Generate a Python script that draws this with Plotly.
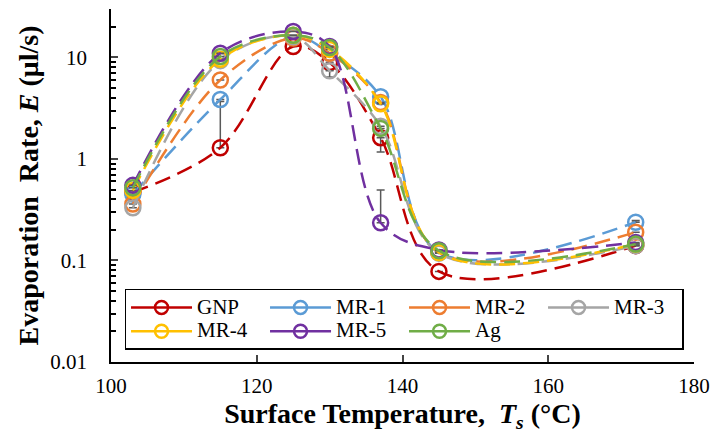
import plotly.graph_objects as go

temps = [103, 115, 125, 130, 137, 145, 172]

series_names = ["GNP", "MR-1", "MR-2", "MR-3", "MR-4", "MR-5", "Ag"]
colors = ["#C00000", "#5B9BD5", "#ED7D31", "#A5A5A5", "#FFC000", "#7030A0", "#70AD47"]

gnp = [0.47, 1.29, 12.8, 8.9, 1.62, 0.078, 0.14]
mr1 = [0.45, 3.85, 16.0, 11.0, 4.1, 0.12, 0.238]
mr2 = [0.36, 6.0, 15.5, 11.0, 3.6, 0.12, 0.19]
mr3 = [0.33, 9.3, 16.0, 7.4, 2.1, 0.118, 0.14]
mr4 = [0.49, 9.6, 16.5, 12.0, 3.5, 0.12, 0.145]
mr5 = [0.55, 11.0, 18.0, 12.8, 0.235, 0.127, 0.15]
ag = [0.52, 10.2, 16.5, 12.5, 2.0, 0.125, 0.145]
values = [gnp, mr1, mr2, mr3, mr4, mr5, ag]

err_plus = [
    [0, 2.4, 0, 0, 0, 0, 0],
    [0, 0, 0, 0, 0, 0, 0.01],
    [0, 0, 0, 0, 0, 0, 0],
    [0, 0, 0, 0, 0, 0, 0],
    [0, 0, 0, 0, 0, 0, 0],
    [0, 0, 0, 0, 0.26, 0, 0],
    [0, 0, 0, 0, 0, 0, 0],
]
err_minus = [
    [0, 0, 0, 0, 0.45, 0, 0],
    [0, 0, 0, 0, 0, 0, 0],
    [0, 0, 0, 0, 0, 0, 0],
    [0, 0, 0, 1.0, 0, 0, 0],
    [0, 0, 0, 0, 0, 0, 0],
    [0, 0, 0, 0, 0, 0, 0],
    [0, 0, 0, 0, 0, 0, 0],
]

y_ticks = [0.01, 0.1, 1, 10]
y_tick_text = ["0.01", "0.1", "1", "10"]
x_ticks = [100, 120, 140, 160, 180]

FONT = "Liberation Serif, Times New Roman, serif"

fig = go.Figure()
for name, col, vals, ep, em in zip(series_names, colors, values, err_plus, err_minus):
    fig.add_trace(go.Scatter(
        x=temps, y=vals, name=name, mode="lines+markers",
        line=dict(color=col, width=2.5, shape="spline", dash="16px,8px"),
        marker=dict(symbol="circle-open", size=15, color=col, line=dict(width=2.5, color=col)),
        error_y=dict(type="data", symmetric=False, array=ep, arrayminus=em,
                     color="#595959", thickness=1.5, width=4),
        showlegend=False,
    ))
# legend entries (solid line + circle as in the reference legend)
for name, col in zip(series_names, colors):
    fig.add_trace(go.Scatter(
        x=[None], y=[None], name='<span style="font-size:21px">' + name + '</span>',
        mode="lines+markers",
        line=dict(color=col, width=2.5),
        marker=dict(symbol="circle-open", size=13, color=col, line=dict(width=2.5, color=col)),
    ))

minor_vals = []
for dec in [0.01, 0.1, 1, 10]:
    for k in range(2, 10):
        v = dec * k
        if v <= 30:
            minor_vals.append(v)

fig.update_layout(
    width=713, height=443,
    margin=dict(l=111, r=19, t=9, b=81, autoexpand=False),
    paper_bgcolor="white", plot_bgcolor="white",
    font=dict(family=FONT, size=21, color="black"),
    xaxis=dict(
        range=[100, 180], tickvals=x_ticks, ticks="inside", ticklen=7, tickwidth=1.5,
        showline=True, linecolor="black", linewidth=1.5, showgrid=False, zeroline=False,
        tickfont=dict(family=FONT, size=21), ticklabelstandoff=4, automargin=False,
        title=dict(text="<b>Surface Temperature,  <i>T<sub>s</sub></i> (°C)</b>",
                   font=dict(family=FONT, size=28), standoff=5),
    ),
    yaxis=dict(
        type="log", range=[-2, 1.4771], tickvals=y_ticks, ticktext=y_tick_text,
        ticks="inside", ticklen=7, tickwidth=1.5,
        minor=dict(tickvals=minor_vals, ticks="inside", ticklen=5, tickwidth=1.5, tickcolor="black"),
        showline=True, linecolor="black", linewidth=1.5, showgrid=False, zeroline=False,
        tickfont=dict(family=FONT, size=21), ticklabelstandoff=18, automargin=False,
        title=dict(text="<b>Evaporation  Rate, <i>E</i> (μl/s)</b>",
                   font=dict(family=FONT, size=28), standoff=3),
    ),
    legend=dict(
        orientation="h", x=0.0232, y=0.2068, xanchor="left", yanchor="top",
        bgcolor="white", bordercolor="black", borderwidth=1.5,
        entrywidth=63, entrywidthmode="pixels", itemwidth=61,
        font=dict(family=FONT, size=16), tracegroupgap=0,
    ),
)

fig.write_html("out.html", post_script="document.body.style.margin='0';",
               config={"displayModeBar": False})
